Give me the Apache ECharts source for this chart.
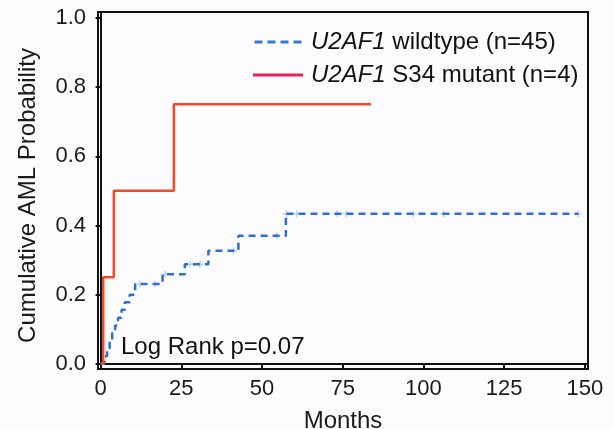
<!DOCTYPE html>
<html>
<head>
<meta charset="utf-8">
<script src="https://cdn.jsdelivr.net/npm/echarts@6/dist/echarts.min.js"></script>
<style>
  html, body { margin: 0; padding: 0; background: #fcfcfe; }
  #chart { width: 613px; height: 429px; }
</style>
</head>
<body>
<div id="chart"></div>
<script>
// KM curve, U2AF1 wildtype (n=45): months vs cumulative AML probability
const wtMonths = [0, 1.2, 2, 2.8, 3.6, 4.5, 5.4, 6.5, 7.5, 9, 10.7, 19.2, 26.1, 33.4, 42.7, 57.4, 148];
const wtProb = [0, 0.022, 0.044, 0.067, 0.089, 0.111, 0.133, 0.156, 0.178, 0.2, 0.231, 0.259, 0.288, 0.327, 0.37, 0.434, 0.434];
// censored observations (wildtype)
const wtCensorMonths = [12.2, 16.9, 20, 27.7, 30.8, 41.1, 54.6, 57.5, 60.8, 73.2, 76.1, 96.9, 106.2, 148];
const wtCensorProb = [0.231, 0.231, 0.259, 0.288, 0.288, 0.327, 0.37, 0.434, 0.434, 0.434, 0.434, 0.434, 0.434, 0.434];

// KM curve, U2AF1 S34 mutant (n=4)
const mutMonths = [0, 0.8, 4.1, 22.7, 83.8];
const mutProb = [0, 0.25, 0.5, 0.75, 0.75];

const xTicks = [0, 25, 50, 75, 100, 125, 150];
const yTicks = [0, 0.2, 0.4, 0.6, 0.8, 1.0];

const seriesNames = ["U2AF1 wildtype (n=45)", "U2AF1 S34 mutant (n=4)"];

const pair = (xs, ys) => xs.map((x, i) => [x, ys[i]]);

const chart = echarts.init(document.getElementById("chart"), null, { renderer: "canvas" });

const axisFont = { fontFamily: "Liberation Sans", fontSize: 22, color: "#1a1a1a" };
const dashIcon = "path://M0,0h8v3h-8z M13,0h8v3h-8z M26,0h8v3h-8z M39,0h8v3h-8z";
const solidIcon = "path://M0,0h50v3h-50z";

chart.setOption({
  backgroundColor: "#fcfcfe",
  animation: false,
  grid: {
    left: 98,
    right: 25,
    top: 12,
    bottom: 60,
    outerBoundsMode: "none",
    containLabel: false,
    show: true,
    borderColor: "#111",
    borderWidth: 2,
  },
  legend: {
    left: 253,
    top: 30,
    padding: 0,
    orient: "vertical",
    itemWidth: 50,
    itemHeight: 3,
    itemGap: 9,
    data: [
      { name: seriesNames[0], icon: dashIcon, itemStyle: { color: "#3a78cc" } },
      { name: seriesNames[1], icon: solidIcon, itemStyle: { color: "#e6245a" } },
    ],
    formatter: (name) => name.replace("U2AF1", "{i|U2AF1}"),
    textStyle: {
      fontFamily: "Liberation Sans",
      fontSize: 24,
      color: "#111",
      padding: [0, 0, 0, 3],
      rich: {
        i: { fontFamily: "Liberation Sans", fontSize: 24, fontStyle: "italic", color: "#111" },
      },
    },
  },
  xAxis: {
    type: "value",
    min: -0.8,
    max: 151,
    name: "Months",
    nameLocation: "middle",
    nameGap: 40,
    nameTextStyle: { fontFamily: "Liberation Sans", fontSize: 24, color: "#1a1a1a" },
    axisLine: { show: true, lineStyle: { color: "#111", width: 2 } },
    axisTick: { show: true, customValues: xTicks, length: 5, lineStyle: { color: "#111", width: 2 } },
    axisLabel: { customValues: xTicks, margin: 9, ...axisFont },
    splitLine: { show: false },
  },
  yAxis: {
    type: "value",
    min: -0.015,
    max: 1.017,
    name: "Cumulative AML Probability",
    nameLocation: "middle",
    nameGap: 58,
    nameTextStyle: { fontFamily: "Liberation Sans", fontSize: 24, color: "#1a1a1a", padding: [0, 10, 0, 0] },
    axisLine: { show: true, lineStyle: { color: "#111", width: 2 } },
    axisTick: { show: true, customValues: yTicks, length: 5, lineStyle: { color: "#111", width: 2 } },
    axisLabel: { customValues: yTicks, margin: 12, formatter: (v) => v.toFixed(1), ...axisFont },
    splitLine: { show: false },
  },
  series: [
    {
      name: seriesNames[0],
      type: "line",
      step: "end",
      symbol: "none",
      color: "#2f6fcf",
      lineStyle: { color: "#2f6fcf", width: 2.5, type: [7, 5] },
      data: pair(wtMonths, wtProb),
      z: 3,
    },
    {
      name: seriesNames[1],
      type: "line",
      step: "end",
      symbol: "none",
      color: "#f24b2c",
      lineStyle: { color: "#f24b2c", width: 2.5 },
      data: pair(mutMonths, mutProb),
      z: 4,
    },
    {
      name: "censored",
      type: "scatter",
      symbol: "path://M4.3,0h1.4v10h-1.4z M0,4.3h10v1.4h-10z",
      symbolSize: 7,
      itemStyle: { color: "#8fb0e3" },
      data: pair(wtCensorMonths, wtCensorProb),
      z: 2,
      silent: true,
    },
  ],
  graphic: [
    {
      type: "text",
      left: 121,
      top: 335,
      style: {
        text: "Log Rank p=0.07",
        font: "24px 'Liberation Sans'",
        fill: "#111",
      },
    },
  ],
});
</script>
</body>
</html>
